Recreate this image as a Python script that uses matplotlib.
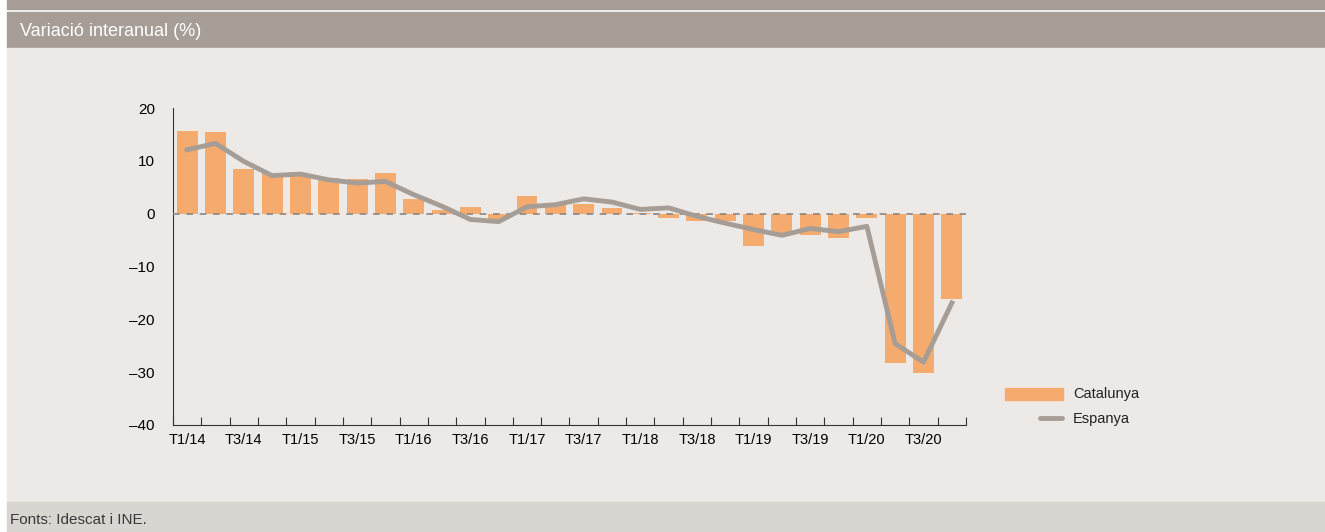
import numpy as np
import matplotlib.pyplot as plt
from matplotlib.patches import Rectangle
from matplotlib.lines import Line2D

# Dades
trimestres = [f"T{q}/{a}" for a in range(14, 21) for q in range(1, 5)]
catalunya = [15.7, 15.5, 8.5, 7.7, 7.6, 6.8, 6.5, 7.7, 2.8, 0.6, 1.2, -1.1,
             3.4, 1.6, 1.8, 1.1, 0.2, -0.9, -1.3, -1.4, -6.1, -4.0, -4.0, -4.7,
             -0.9, -28.3, -30.2, -16.1]
espanya = [12.1, 13.3, 9.9, 7.2, 7.5, 6.4, 5.8, 6.1, 3.6, 1.4, -1.1, -1.5,
           1.3, 1.7, 2.8, 2.2, 0.8, 1.1, -0.5, -1.8, -3.0, -4.1, -2.8, -3.4,
           -2.4, -24.6, -28.1, -16.9]
y_ticks = [20, 10, 0, -10, -20, -30, -40]

fons = "#ede9e6"
gris = "#a59d96"
taronja = "#f5aa6e"
font = ["Liberation Sans", "DejaVu Sans"]

W, H = 1325, 532
fig = plt.figure(figsize=(W / 100, H / 100), dpi=100)
fig.patch.set_facecolor("white")

def px(x, y):
    # píxels (origen a dalt) -> coordenades de figura
    return x / W, 1 - y / H

def banda(x0, y0, x1, y1, color, z=-10):
    fig.patches.append(Rectangle(px(x0, y1), (x1 - x0) / W, (y1 - y0) / H,
                                 transform=fig.transFigure, color=color, zorder=z))

banda(7, 0, W, 9, gris)
banda(7, 12, W, 48, gris)
banda(7, 48, W, 502, fons)
banda(7, 502, W, H, "#d9d5d0")

fig.text(*px(20, 31), "Variació interanual (%)", color="white", fontsize=13,
         family=font, va="center")
fig.text(*px(10, 520), "Fonts: Idescat i INE.", color="#3a3a3a", fontsize=11,
         family=font, va="center")

ax = fig.add_axes([173 / W, 1 - 425 / H, (966 - 173) / W, (425 - 108) / H])
ax.patch.set_alpha(0)
x = np.arange(len(trimestres))
ax.bar(x, catalunya, width=0.74, color=taronja, zorder=2)
ax.axhline(0, color="#8c8580", lw=1.2, ls=(0, (4, 4)), zorder=3)
ax.plot(x, espanya, color=gris, lw=3.5, zorder=4)

ax.set_xlim(-0.5, len(trimestres) - 0.5)
ax.set_ylim(-40, 20)
ax.set_yticks(y_ticks)
ax.set_yticklabels([str(v).replace("-", "\u2013") for v in y_ticks], fontsize=11, family=font)
ax.tick_params(axis="y", length=0, pad=13)

ax.set_xticks(np.arange(-0.5, len(trimestres), 1))
ax.set_xticklabels([])
ax.tick_params(axis="x", which="major", direction="in", length=6, color="#333333")
ax.set_xticks(x[::2], minor=True)
ax.set_xticklabels(trimestres[::2], minor=True, fontsize=10.5, family=font)
ax.tick_params(axis="x", which="minor", length=0, pad=6)

for s in ["top", "right"]:
    ax.spines[s].set_visible(False)
ax.spines["left"].set_color("#333333")
ax.spines["bottom"].set_color("#333333")

# Llegenda
banda(1005, 388, 1063, 400, taronja, z=5)
(lx0, ly), (lx1, _) = px(1040, 418), px(1062, 418)
fig.lines.append(Line2D([lx0, lx1], [ly, ly], transform=fig.transFigure,
                        color=gris, lw=3.5, solid_capstyle="round"))
fig.text(*px(1073, 394), "Catalunya", fontsize=10.5, family=font, va="center", color="#222222")
fig.text(*px(1073, 419), "Espanya", fontsize=10.5, family=font, va="center", color="#222222")

fig.savefig("out.png", dpi=100, facecolor=fig.get_facecolor())
